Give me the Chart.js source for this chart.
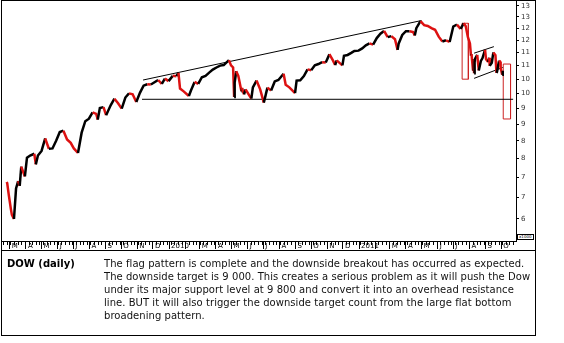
<!DOCTYPE html>
<html lang="en">

<head>
  <meta charset="UTF-8">
  <title>DOW (daily)</title>
  <script src="https://cdn.jsdelivr.net/npm/chart.js"></script>
  <style>
    body {
      margin: 0;
      background: #fff;
      font-family: 'DejaVu Sans', Verdana, sans-serif;
      color: #000;
    }

    .frame {
      position: absolute;
      left: 1px;
      top: 0;
      width: 533px;
      height: 334px;
      border: 1px solid #000;
    }

    .chart-box {
      position: absolute;
      left: 0;
      top: 0;
      width: 533px;
      height: 249px;
    }

    .unit {
      position: absolute;
      left: 515px;
      top: 233px;
      font-size: 4px;
      line-height: 4px;
      border: 1px solid #000;
      padding: 0 1px;
      background: #fff;
    }

    .notes {
      position: absolute;
      left: 0;
      top: 249px;
      width: 533px;
      height: 85px;
      border-top: 1px solid #000;
    }

    .name {
      position: absolute;
      left: 5px;
      top: 6px;
      font-size: 10px;
      font-weight: bold;
      line-height: 13px;
    }

    .text {
      position: absolute;
      left: 102px;
      top: 6px;
      font-size: 10px;
      letter-spacing: 0.05px;
      line-height: 13px;
      white-space: nowrap;
      color: #111;
    }
  </style>
</head>

<body>
  <div class="frame">
    <div class="chart-box">
      <canvas id="dowChart" width="533" height="249"></canvas>
      <div class="unit">x1000</div>
    </div>
    <div class="notes">
      <div class="name">DOW (daily)</div>
      <div class="text">
        The flag pattern is complete and the downside breakout has occurred as expected.<br>
        The downside target is 9 000. This creates a serious problem as it will push the Dow<br>
        under its major support level at 9 800 and convert it into an overhead resistance<br>
        line. BUT it will also trigger the downside target count from the large flat bottom<br>
        broadening pattern.
      </div>
    </div>
  </div>

  <script>
    // Dow closes in thousands
    const priceDates = [
      '2009-02-23', '2009-02-24', '2009-02-27', '2009-03-03', '2009-03-05', '2009-03-09', '2009-03-13', '2009-03-17',
      '2009-03-20', '2009-03-23', '2009-03-30', '2009-04-03', '2009-04-09', '2009-04-17', '2009-04-20', '2009-04-24',
      '2009-05-01', '2009-05-08', '2009-05-15', '2009-05-22', '2009-05-29', '2009-06-05', '2009-06-12', '2009-06-19',
      '2009-06-26', '2009-07-02', '2009-07-10', '2009-07-17', '2009-07-24', '2009-07-31', '2009-08-07', '2009-08-14',
      '2009-08-17', '2009-08-21', '2009-08-28', '2009-09-02', '2009-09-11', '2009-09-18', '2009-09-25', '2009-10-02',
      '2009-10-09', '2009-10-16', '2009-10-23', '2009-10-30', '2009-11-06', '2009-11-13', '2009-11-20', '2009-11-27',
      '2009-12-04', '2009-12-11', '2009-12-18', '2009-12-24', '2009-12-31',
      '2010-01-08', '2010-01-15', '2010-01-19', '2010-01-22', '2010-01-29', '2010-02-08', '2010-02-12', '2010-02-19',
      '2010-02-26', '2010-03-05', '2010-03-12', '2010-03-19', '2010-03-26', '2010-04-02', '2010-04-09', '2010-04-16',
      '2010-04-26', '2010-04-30', '2010-05-04', '2010-05-06', '2010-05-07', '2010-05-10', '2010-05-14', '2010-05-20',
      '2010-05-21', '2010-05-25', '2010-05-28', '2010-06-04', '2010-06-08', '2010-06-11', '2010-06-18', '2010-06-25',
      '2010-07-02', '2010-07-09', '2010-07-16', '2010-07-23', '2010-07-30', '2010-08-09', '2010-08-13', '2010-08-20',
      '2010-08-31', '2010-09-03', '2010-09-10', '2010-09-17', '2010-09-24', '2010-10-01', '2010-10-08', '2010-10-15',
      '2010-10-22', '2010-10-29', '2010-11-05', '2010-11-12', '2010-11-16', '2010-11-19', '2010-11-30', '2010-12-03',
      '2010-12-10', '2010-12-17', '2010-12-23', '2010-12-31',
      '2011-01-07', '2011-01-14', '2011-01-21', '2011-01-28', '2011-02-04', '2011-02-11', '2011-02-18', '2011-02-25',
      '2011-03-04', '2011-03-11', '2011-03-16', '2011-03-18', '2011-03-25', '2011-04-01', '2011-04-08', '2011-04-15',
      '2011-04-18', '2011-04-21', '2011-04-29', '2011-05-06', '2011-05-13', '2011-05-20', '2011-05-27', '2011-06-03',
      '2011-06-10', '2011-06-17', '2011-06-24', '2011-07-01', '2011-07-08', '2011-07-15', '2011-07-21', '2011-07-25',
      '2011-07-29', '2011-08-02', '2011-08-04', '2011-08-05', '2011-08-08', '2011-08-09', '2011-08-10', '2011-08-11',
      '2011-08-12', '2011-08-16', '2011-08-19', '2011-08-23', '2011-08-26', '2011-08-31', '2011-09-02', '2011-09-06',
      '2011-09-08', '2011-09-09', '2011-09-13', '2011-09-16', '2011-09-20', '2011-09-22', '2011-09-23', '2011-09-27',
      '2011-09-29', '2011-09-30', '2011-10-03', '2011-10-04'
    ];
    const priceValues = [
      7.38, 7.35, 7.06, 6.73, 6.59, 6.50, 7.22, 7.40,
      7.28, 7.78, 7.52, 8.02, 8.08, 8.13, 7.84, 8.08,
      8.21, 8.57, 8.27, 8.28, 8.50, 8.76, 8.80, 8.54,
      8.44, 8.28, 8.15, 8.74, 9.09, 9.17, 9.37, 9.32,
      9.14, 9.51, 9.54, 9.28, 9.61, 9.82, 9.67, 9.49,
      9.86, 10.00, 9.97, 9.71, 10.02, 10.27, 10.32, 10.31,
      10.39, 10.47, 10.33, 10.52, 10.43,
      10.62, 10.61, 10.73, 10.17, 10.07, 9.91, 10.10, 10.40,
      10.33, 10.57, 10.62, 10.74, 10.85, 10.93, 11.00, 11.02,
      11.21, 11.01, 10.93, 9.88, 10.38, 10.79, 10.62, 10.07,
      10.19, 9.97, 10.14, 9.93, 9.82, 10.21, 10.45, 10.14,
      9.69, 10.20, 10.10, 10.42, 10.47, 10.70, 10.30, 10.21,
      10.01, 10.45, 10.46, 10.61, 10.86, 10.83, 11.01, 11.06,
      11.13, 11.12, 11.44, 11.19, 11.02, 11.20, 11.01, 11.38,
      11.41, 11.49, 11.57, 11.58,
      11.67, 11.79, 11.87, 11.82, 12.09, 12.27, 12.39, 12.13,
      12.17, 12.04, 11.61, 11.86, 12.22, 12.38, 12.38, 12.34,
      12.20, 12.51, 12.81, 12.64, 12.60, 12.51, 12.44, 12.15,
      11.95, 12.00, 11.93, 12.58, 12.66, 12.48, 12.72, 12.59,
      12.14, 11.87, 11.38, 11.44, 10.81, 11.24, 10.72, 11.14,
      11.27, 11.41, 10.82, 11.18, 11.28, 11.61, 11.24, 11.14,
      11.30, 10.99, 11.11, 11.51, 11.40, 10.73, 10.77, 11.19,
      11.15, 10.91, 10.66, 10.81
    ];

    // drawn lines and boxes: [start, end] dates and values
    const resistanceDates = ['2009-11-12', '2011-05-01'];
    const resistanceValues = [10.47, 12.84];
    const supportDates = ['2009-11-10', '2011-10-24'];
    const supportValues = [9.8, 9.8];
    const flagTopDates = ['2011-08-10', '2011-09-17'];
    const flagTopValues = [11.48, 11.74];
    const flagBottomDates = ['2011-08-10', '2011-10-04'];
    const flagBottomValues = [10.53, 10.93];
    const poleDates = ['2011-07-18', '2011-07-30'];
    const poleValues = [12.72, 10.50];
    const targetDates = ['2011-10-05', '2011-10-19'];
    const targetValues = [11.06, 9.16];

    // axis ticks
    const monthStarts = [
      '2009-03-01', '2009-04-01', '2009-05-01', '2009-06-01', '2009-07-01', '2009-08-01', '2009-09-01', '2009-10-01',
      '2009-11-01', '2009-12-01', '2010-01-01', '2010-02-01', '2010-03-01', '2010-04-01', '2010-05-01', '2010-06-01',
      '2010-07-01', '2010-08-01', '2010-09-01', '2010-10-01', '2010-11-01', '2010-12-01', '2011-01-01', '2011-02-01',
      '2011-03-01', '2011-04-01', '2011-05-01', '2011-06-01', '2011-07-01', '2011-08-01', '2011-09-01', '2011-10-01'
    ];
    const monthLabels = [
      'M', 'A', 'M', 'J', 'J', 'A', 'S', 'O', 'N', 'D', '2010', '', 'M', 'A', 'M', 'J',
      'J', 'A', 'S', 'O', 'N', 'D', '2011', '', 'M', 'A', 'M', 'J', 'J', 'A', 'S', 'O'
    ];
    const yTickValues = [6.5, 7, 7.5, 8, 8.5, 9, 9.5, 10, 10.5, 11, 11.5, 12, 12.5, 13, 13.5];
    const yTickLabels = ['6', '7', '7', '8', '8', '9', '9', '10', '10', '11', '11', '12', '12', '13', '13'];

    const startDate = Date.UTC(2009, 1, 14);
    const dayOf = s => (Date.parse(s) - startDate) / 86400000;
    const pts = (dates, values) => dates.map((d, i) => ({ x: dayOf(d), y: values[i] }));
    const box = (dates, values) => pts(
      [dates[0], dates[1], dates[1], dates[0], dates[0]],
      [values[0], values[0], values[1], values[1], values[0]]
    );

    const RED = '#dd1111';
    const BOX_RED = '#cc2222';

    const line = (data, color) => ({
      data: data,
      borderColor: color,
      borderWidth: 1,
      pointRadius: 0,
      tension: 0
    });

    // small weekly ticks along the date axis
    const weekTicks = {
      id: 'weekTicks',
      afterDraw(chart) {
        const xs = chart.scales.x;
        const ctx = chart.ctx;
        const b = chart.chartArea.bottom;
        ctx.save();
        ctx.strokeStyle = '#000';
        ctx.lineWidth = 1;
        ctx.beginPath();
        for (let d = dayOf('2009-02-16'); d <= xs.max; d += 7) {
          const px = Math.round(xs.getPixelForValue(d)) + 0.5;
          ctx.moveTo(px, b);
          ctx.lineTo(px, b + 4);
        }
        ctx.stroke();
        ctx.restore();
      }
    };

    new Chart(document.getElementById('dowChart'), {
      type: 'line',
      data: {
        datasets: [
          {
            data: pts(priceDates, priceValues),
            borderColor: '#000',
            borderWidth: 2.5,
            pointRadius: 0,
            tension: 0,
            segment: {
              borderColor: c => c.p1.parsed.y < c.p0.parsed.y ? RED : '#000'
            }
          },
          line(pts(resistanceDates, resistanceValues), '#000'),
          line(pts(supportDates, supportValues), '#000'),
          line(pts(flagTopDates, flagTopValues), '#000'),
          line(pts(flagBottomDates, flagBottomValues), '#000'),
          line(box(poleDates, poleValues), BOX_RED),
          line(box(targetDates, targetValues), BOX_RED)
        ]
      },
      options: {
        responsive: false,
        animation: false,
        layout: { padding: 0 },
        plugins: {
          legend: { display: false },
          tooltip: { enabled: false }
        },
        scales: {
          x: {
            type: 'linear',
            position: 'bottom',
            min: 0,
            max: 987.5,
            afterBuildTicks: s => { s.ticks = monthStarts.map(d => ({ value: dayOf(d) })); },
            afterFit: s => { s.height = 9; s.paddingLeft = 0; s.paddingRight = 0; },
            grid: { drawOnChartArea: false, tickLength: 8, color: '#000' },
            border: { color: '#000' },
            ticks: {
              autoSkip: false,
              maxRotation: 0,
              align: 'start',
              padding: -7,
              labelOffset: 2,
              color: '#000',
              font: { family: 'DejaVu Sans', size: 7 },
              callback: (v, i) => monthLabels[i]
            }
          },
          y: {
            type: 'logarithmic',
            position: 'right',
            bounds: 'data',
            min: 6.027,
            max: 13.73,
            afterBuildTicks: s => { s.ticks = yTickValues.map(v => ({ value: v })); },
            afterFit: s => { s.width = 19; s.paddingTop = 0; s.paddingBottom = 0; },
            grid: { drawOnChartArea: false, tickLength: 3, color: '#000' },
            border: { color: '#000', dash: [1, 2] },
            ticks: {
              autoSkip: false,
              padding: 2,
              color: '#333',
              font: { family: 'DejaVu Sans', size: 7 },
              callback: (v, i) => yTickLabels[i]
            }
          }
        }
      },
      plugins: [weekTicks]
    });
  </script>

</body>

</html>
